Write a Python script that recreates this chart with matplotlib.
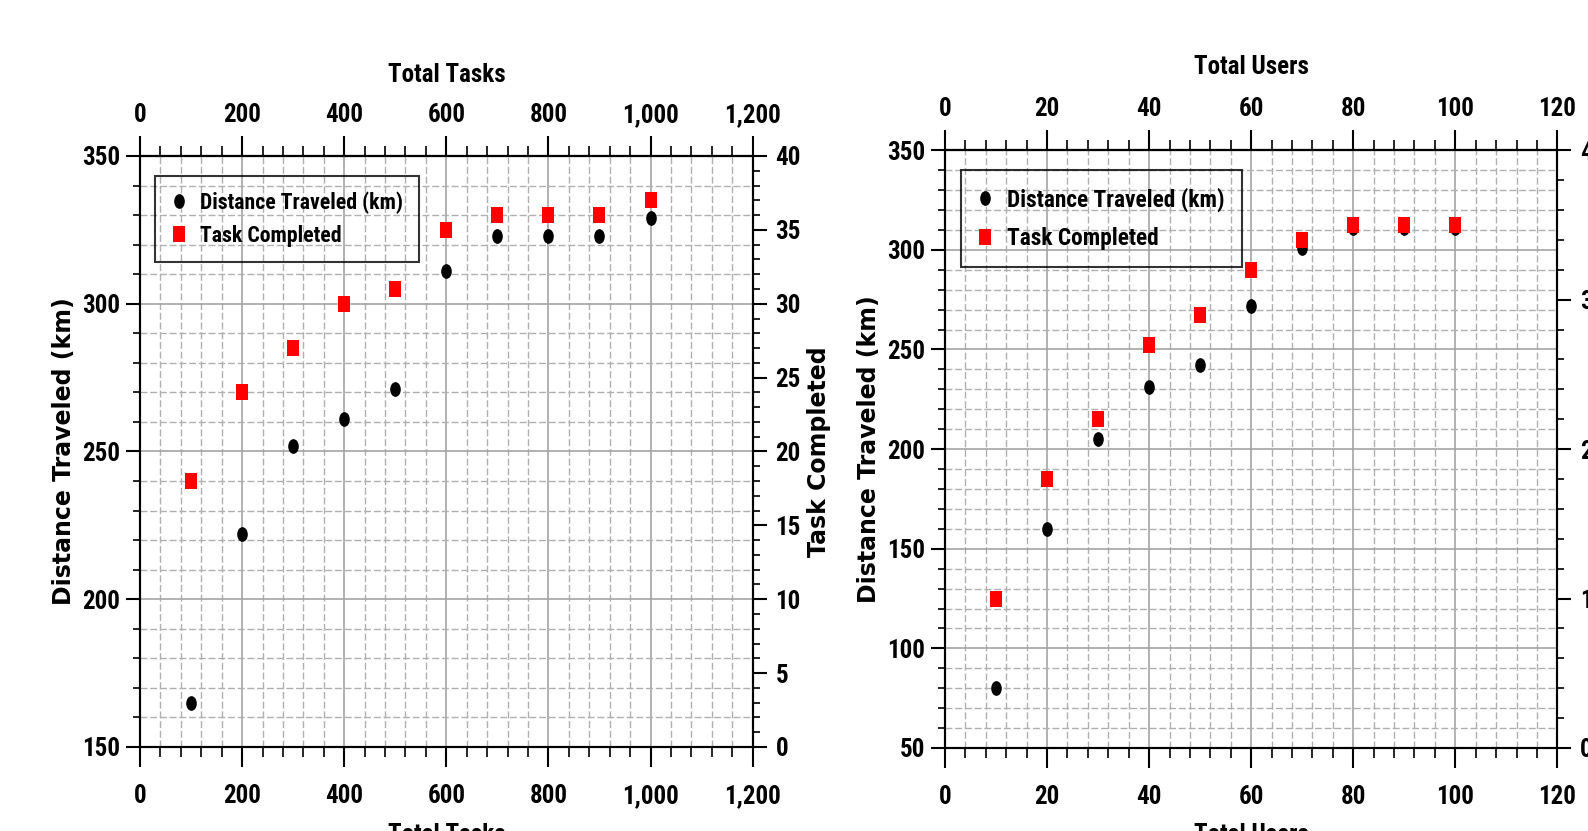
import matplotlib
matplotlib.use('Agg')
import matplotlib.pyplot as plt
from matplotlib.markers import MarkerStyle
from matplotlib.transforms import Affine2D
from matplotlib.ticker import MultipleLocator, FuncFormatter
from matplotlib import font_manager as fm

# ---------------- data ----------------
tasks = [100, 200, 300, 400, 500, 600, 700, 800, 900, 1000]
tasks_distance = [165, 222, 252, 261, 271, 311, 323, 323, 323, 329]
tasks_completed = [18, 24, 27, 30, 31, 35, 36, 36, 36, 37]

users = [10, 20, 30, 40, 50, 60, 70, 80, 90, 100]
users_distance = [80, 160, 205, 231, 242, 272, 301, 311, 311, 311]
users_completed = [10, 18, 22, 27, 29, 32, 34, 35, 35, 35]

label_dist = 'Distance Traveled (km)'
label_task = 'Task Completed'

# ---------------- fonts ----------------
def pick_condensed():
    prefs = ['Liberation Sans Narrow', 'Arial Narrow', 'Roboto Condensed',
             'Noto Sans Condensed', 'Open Sans Condensed', 'Roboto', 'Noto Sans',
             'Open Sans', 'Liberation Sans', 'DejaVu Sans Condensed', 'DejaVu Sans']
    cands = []
    for e in fm.fontManager.ttflist:
        fname = e.fname.lower()
        stretch = str(e.stretch).lower()
        is_cond = ('narrow' in fname or 'condensed' in fname or 'cond' in stretch
                   or 'narrow' in e.name.lower())
        try:
            w = int(e.weight)
        except Exception:
            w = 700 if 'bold' in str(e.weight).lower() else 400
        if is_cond and w >= 600 and 'italic' not in str(e.style).lower() \
                and 'oblique' not in str(e.style).lower() and 'italic' not in fname:
            rank = len(prefs)
            for i, p in enumerate(prefs):
                if e.name.lower() == p.lower():
                    rank = i
                    break
            semi = 1 if 'semi' in fname or 'semi' in stretch else 0
            cands.append((rank, semi, abs(w - 700), e))
    if not cands:
        return None
    cands.sort(key=lambda t: (t[0], t[1], t[2]))
    return cands[0][3]

cond = pick_condensed()
if cond is not None:
    fm.fontManager.addfont(cond.fname)
    TICK_FP = dict(fname=cond.fname)
else:
    TICK_FP = dict(family='Liberation Sans', weight='bold')

def fp(size):
    return fm.FontProperties(size=size, **TICK_FP)

plt.rcParams['font.family'] = ['Liberation Sans', 'DejaVu Sans']
plt.rcParams['font.weight'] = 'bold'
wide = 'DejaVu Sans'

fig = plt.figure(figsize=(15.88, 8.31), dpi=100)

circ = MarkerStyle('o', transform=Affine2D().scale(0.72, 1.0))
sq = MarkerStyle('s', transform=Affine2D().scale(0.75, 1.0))

thousands = FuncFormatter(lambda v, p: f"{int(round(v)):,}")


def panel(rect, x, dist, comp, xmax, xmajor, xminor, ylim, ymajor, y2major, y2minor,
          xlabel, xlab_top, xlab_bot, ylab_right, leg_anchor, leg_fs, leg_kw):
    ax = fig.add_axes(rect)
    ax2 = ax.twinx()
    ax.set_xlim(0, xmax)
    ax.set_ylim(*ylim)
    ax2.set_ylim(0, 40)

    ax.xaxis.set_major_locator(MultipleLocator(xmajor))
    ax.xaxis.set_minor_locator(MultipleLocator(xminor))
    ax.xaxis.set_major_formatter(thousands)
    ax.yaxis.set_major_locator(MultipleLocator(ymajor))
    ax.yaxis.set_minor_locator(MultipleLocator(10))
    ax2.yaxis.set_major_locator(MultipleLocator(y2major))
    ax2.yaxis.set_minor_locator(MultipleLocator(y2minor))

    ax.set_axisbelow(True)
    ax.grid(which='major', color='#a4a4a4', lw=1.2, ls='-')
    ax.grid(which='minor', color='#b0b0b0', lw=1.0, ls=(0, (5, 2)))

    sec = ax.secondary_xaxis('top')
    sec.xaxis.set_major_locator(MultipleLocator(xmajor))
    sec.xaxis.set_minor_locator(MultipleLocator(xminor))
    sec.xaxis.set_major_formatter(thousands)

    for a in (ax, ax2):
        for s in a.spines.values():
            s.set_linewidth(1.5)
            s.set_color('black')
    for s in sec.spines.values():
        s.set_linewidth(1.5)

    ax.tick_params(axis='x', which='major', direction='out', length=14.4, width=1.5,
                   pad=12.5)
    ax.tick_params(axis='x', which='minor', direction='out', length=7.2, width=1.2)
    sec.tick_params(axis='x', which='major', direction='out', length=14.4, width=1.5,
                    pad=6.3)
    sec.tick_params(axis='x', which='minor', direction='out', length=7.2, width=1.2)
    ax.tick_params(axis='y', which='major', direction='out', length=10, width=1.5,
                   pad=4.3)
    ax.tick_params(axis='y', which='minor', direction='out', length=5, width=1.2)
    ax2.tick_params(axis='y', which='major', direction='out', length=10, width=1.5,
                    pad=6.5)
    ax2.tick_params(axis='y', which='minor', direction='out', length=5, width=1.2)

    ax.plot(x, dist, ls='none', marker=circ, ms=10.6, color='black', mew=0,
            label=label_dist)
    ax2.plot(x, comp, ls='none', marker=sq, ms=11.7, color='red', mew=0,
             label=label_task)

    # axis labels
    ax.set_xlabel(xlabel, fontproperties=fp(18))
    ax.xaxis.label.set_va('center')
    ax.xaxis.set_label_coords(0.5, xlab_bot, transform=ax.transAxes)
    sec.set_xlabel(xlabel, fontproperties=fp(18))
    sec.xaxis.label.set_va('center')
    sec.xaxis.set_label_coords(0.5, xlab_top, transform=ax.transAxes)

    ax.set_ylabel(label_dist, fontfamily=wide, fontsize=17, fontweight='bold')
    ax.yaxis.label.set_va('center')
    ax.yaxis.set_label_coords(-0.124, 0.5, transform=ax.transAxes)
    ax2.set_ylabel(label_task, fontfamily=wide, fontsize=17, fontweight='bold')
    ax2.yaxis.label.set_va('center')
    ax2.yaxis.set_label_coords(ylab_right, 0.5, transform=ax.transAxes)

    h1, l1 = ax.get_legend_handles_labels()
    h2, l2 = ax2.get_legend_handles_labels()
    leg = ax2.legend(h1 + h2, l1 + l2, loc='upper left', bbox_to_anchor=leg_anchor,
                     borderaxespad=0, frameon=True, fancybox=False, edgecolor='black',
                     facecolor='none', framealpha=None, prop=fp(leg_fs), **leg_kw)
    leg.get_frame().set_linewidth(1.5)

    fig.canvas.draw()
    for a in (ax, ax2, sec):
        for lab in a.get_xticklabels() + a.get_yticklabels():
            lab.set_fontproperties(fp(18))
    return ax, ax2


panel([0.08816, 0.1011, 0.3858, 0.7112], tasks, tasks_distance, tasks_completed,
      1200, 200, 40, (150, 350), 50, 5, 1, 'Total Tasks', 1.137, -0.149, 1.108,
      (0.0245, 0.966), 15.7,
      dict(borderpad=0.7, labelspacing=0.5, handlelength=0.8, handletextpad=0.58))

panel([0.5951, 0.0999, 0.3856, 0.7193], users, users_distance, users_completed,
      120, 20, 4, (50, 350), 50, 10, 2, 'Total Users', 1.139, -0.1456, 1.108,
      (0.0261, 0.9665), 16.8,
      dict(borderpad=0.72, labelspacing=0.68, handlelength=0.6, handletextpad=0.66))

fig.savefig('out.png', dpi=100)
